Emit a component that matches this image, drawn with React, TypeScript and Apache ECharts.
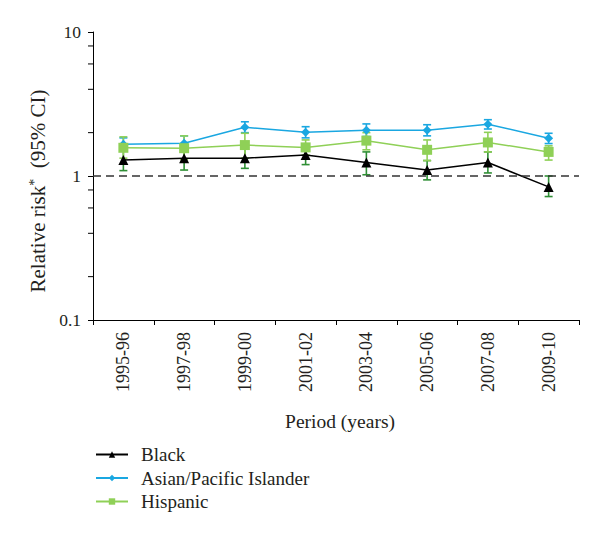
import React, { useEffect, useRef } from "react";
import * as echarts from "echarts";

const categories = ["1995-96", "1997-98", "1999-00", "2001-02", "2003-04", "2005-06", "2007-08", "2009-10"];
const blackRR = [1.29, 1.33, 1.33, 1.4, 1.24, 1.1, 1.24, 0.84];
const blackLow = [1.09, 1.1, 1.13, 1.2, 1.02, 0.94, 1.05, 0.72];
const blackHigh = [1.52, 1.6, 1.57, 1.62, 1.47, 1.28, 1.47, 1.0];
const asianRR = [1.66, 1.69, 2.18, 2.01, 2.08, 2.08, 2.29, 1.83];
const asianLow = [1.5, 1.52, 2.0, 1.84, 1.88, 1.9, 2.12, 1.68];
const asianHigh = [1.84, 1.9, 2.38, 2.2, 2.3, 2.27, 2.46, 1.98];
const hispRR = [1.57, 1.56, 1.64, 1.58, 1.76, 1.52, 1.71, 1.47];
const hispLow = [1.33, 1.3, 1.33, 1.4, 1.52, 1.28, 1.47, 1.29];
const hispHigh = [1.87, 1.9, 1.98, 1.78, 2.0, 1.78, 2.01, 1.62];
const minorTickValues = [0.2, 0.4, 0.6, 0.8, 2, 4, 6, 8];
const referenceValue = 1;

const FONT = "Liberation Serif";
const TEXT = "#231f20";

function errorSeries(name: string, low: number[], high: number[], color: string) {
  return {
    name,
    type: "custom",
    silent: true,
    z: 1,
    encode: { x: 0, y: [1, 2] },
    data: low.map((l, i) => [i, l, high[i]]),
    renderItem: (params: any, api: any) => {
      const i = api.value(0);
      const lo = api.coord([i, api.value(1)]);
      const hi = api.coord([i, api.value(2)]);
      const w = 4;
      const st = { stroke: color, lineWidth: 1.6 };
      return {
        type: "group",
        children: [
          { type: "line", shape: { x1: lo[0], y1: lo[1], x2: hi[0], y2: hi[1] }, style: st },
          { type: "line", shape: { x1: lo[0] - w, y1: lo[1], x2: lo[0] + w, y2: lo[1] }, style: st },
          { type: "line", shape: { x1: hi[0] - w, y1: hi[1], x2: hi[0] + w, y2: hi[1] }, style: st },
        ],
      };
    },
  };
}

export default function App() {
  const ref = useRef<HTMLDivElement>(null);
  useEffect(() => {
    if (!ref.current) return;
    const chart = echarts.init(ref.current, undefined, { renderer: "svg" });
    chart.setOption({
      animation: false,
      backgroundColor: "#ffffff",
      textStyle: { fontFamily: FONT },
      grid: { left: 93, top: 32, right: 21, bottom: 217, containLabel: false },
      graphic: [
        {
          type: "text",
          x: 38,
          y: 191,
          rotation: Math.PI / 2,
          silent: true,
          style: {
            text: "Relative risk{sup|*}  (95% CI)",
            fontFamily: FONT,
            fontSize: 21,
            fill: TEXT,
            align: "center",
            verticalAlign: "middle",
            rich: { sup: { fontFamily: FONT, fontSize: 14, fill: TEXT, verticalAlign: "top", padding: [0, 0, 8, 0] } },
          },
        },
      ],
      legend: {
        data: ["Black", "Asian/Pacific Islander", "Hispanic"],
        orient: "vertical",
        left: 90,
        top: 440,
        itemWidth: 32,
        itemHeight: 8,
        itemGap: 4.5,
        textStyle: { fontFamily: FONT, fontSize: 19, lineHeight: 19, color: TEXT, padding: [0, 0, 0, 8] },
      },
      xAxis: {
        type: "category",
        data: categories,
        boundaryGap: true,
        name: "Period (years)",
        nameLocation: "middle",
        nameGap: 91,
        nameTextStyle: { fontFamily: FONT, fontSize: 19.5, color: TEXT, padding: [0, 0, 0, 8] },
        axisLine: { lineStyle: { color: "#000", width: 1 } },
        axisTick: { show: true, length: 5, lineStyle: { color: "#000" } },
        axisLabel: { rotate: 90, margin: 12, fontFamily: FONT, fontSize: 18, color: TEXT, interval: 0 },
      },
      yAxis: {
        type: "log",
        logBase: 10,
        min: 0.1,
        max: 10,
        axisLine: { show: true, lineStyle: { color: "#000", width: 1 } },
        axisTick: { show: true, length: 5, lineStyle: { color: "#000" } },
        splitLine: { show: false },
        axisLabel: {
          margin: 12,
          fontFamily: FONT,
          fontSize: 17.5,
          color: TEXT,
          formatter: (v: number) => String(v),
        },
      },
      series: [
        {
          name: "minorTicks",
          type: "custom",
          silent: true,
          z: 1,
          encode: { x: 0, y: 1 },
          data: minorTickValues.map((v) => [0, v]),
          renderItem: (params: any, api: any) => {
            const p = api.coord([0, api.value(1)]);
            const left = params.coordSys.x;
            return {
              type: "line",
              shape: { x1: left - 5, y1: p[1], x2: left, y2: p[1] },
              style: { stroke: "#000", lineWidth: 1 },
            };
          },
        },
        errorSeries("blackErr", blackLow, blackHigh, "#2f8f35"),
        errorSeries("asianErr", asianLow, asianHigh, "#1aa7e1"),
        errorSeries("hispErr", hispLow, hispHigh, "#8fd057"),
        {
          name: "Black",
          type: "line",
          data: blackRR,
          z: 3,
          symbol: "triangle",
          symbolSize: 10,
          itemStyle: { color: "#000" },
          lineStyle: { color: "#000", width: 1.5 },
          markLine: {
            silent: true,
            symbol: ["none", "none"],
            label: { show: false },
            lineStyle: { color: "#333", type: [8, 5], width: 1.6 },
            data: [{ yAxis: referenceValue }],
          },
        },
        {
          name: "Asian/Pacific Islander",
          type: "line",
          data: asianRR,
          z: 3,
          symbol: "diamond",
          symbolSize: 9,
          itemStyle: { color: "#1aa7e1" },
          lineStyle: { color: "#1aa7e1", width: 1.5 },
        },
        {
          name: "Hispanic",
          type: "line",
          data: hispRR,
          z: 3,
          symbol: "rect",
          symbolSize: 10,
          itemStyle: { color: "#8fd057" },
          lineStyle: { color: "#8fd057", width: 1.5 },
        },
      ],
    });
    return () => chart.dispose();
  }, []);
  return <div ref={ref} style={{ width: 600, height: 537, position: "absolute", left: 0, top: 0 }} />;
}
